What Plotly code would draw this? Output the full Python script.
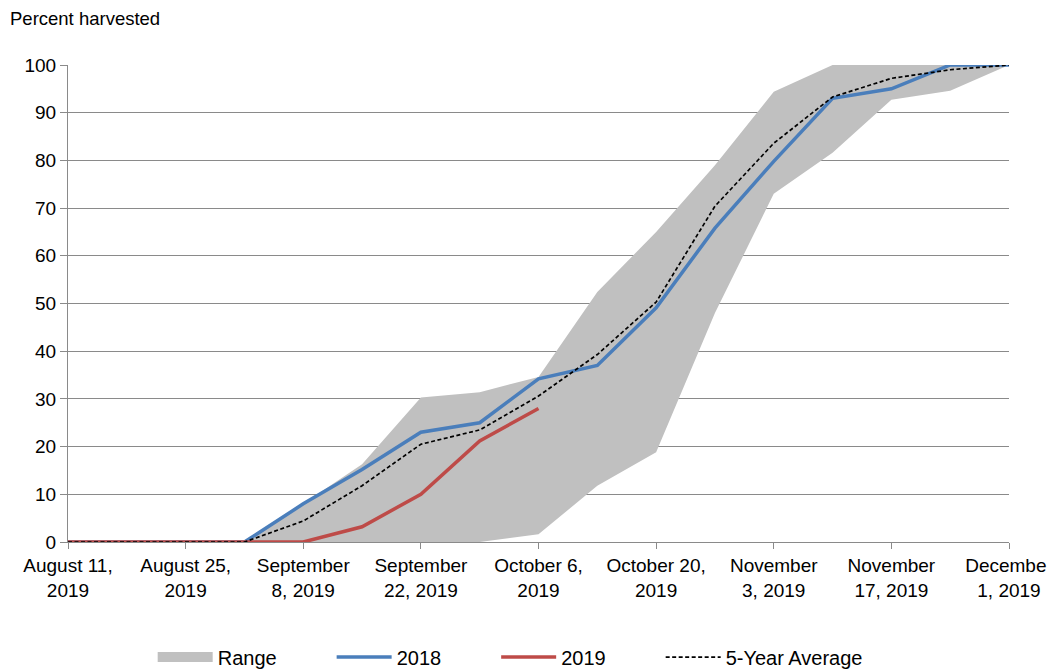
import plotly.graph_objects as go

weeks = ["2019-08-11", "2019-08-18", "2019-08-25", "2019-09-01", "2019-09-08",
         "2019-09-15", "2019-09-22", "2019-09-29", "2019-10-06", "2019-10-13",
         "2019-10-20", "2019-10-27", "2019-11-03", "2019-11-10", "2019-11-17",
         "2019-11-24", "2019-12-01"]

range_low = [0, 0, 0, 0, 0, 0, 0, 0, 1.6, 11.8, 18.8, 48, 73, 81.6, 92.7, 94.6, 100]
range_high = [0, 0, 0, 0, 8, 16.3, 30.3, 31.4, 34.6, 52.4, 65, 79, 94.4, 100, 100, 100, 100]
y2018 = [0, 0, 0, 0, 8, 15.2, 23, 25, 34.2, 37, 49.1, 65.8, 79.8, 93, 95, 100, 100]
y2019 = [0, 0, 0, 0, 0, 3.2, 10, 21.2, 28]
avg5 = [0, 0, 0, 0, 4.4, 11.8, 20.5, 23.5, 30.6, 39.3, 50.3, 70.4, 83.6, 93.3, 97.2, 99, 100]

tick_vals = ["2019-08-11", "2019-08-25", "2019-09-08", "2019-09-22", "2019-10-06",
             "2019-10-20", "2019-11-03", "2019-11-17", "2019-12-01"]
tick_text = ["August 11,<br>2019", "August 25,<br>2019", "September<br>8, 2019",
             "September<br>22, 2019", "October 6,<br>2019", "October 20,<br>2019",
             "November<br>3, 2019", "November<br>17, 2019", "December<br>1, 2019"]

FONT = "Liberation Sans, Arial, sans-serif"
GRID = "#8a8a8a"
RANGE_COLOR = "#c0c0c0"
PAD = "\u00a0" * 9

fig = go.Figure()
fig.add_trace(go.Scatter(x=weeks, y=range_low, mode="lines", line=dict(width=0),
                         showlegend=False, hoverinfo="skip"))
fig.add_trace(go.Scatter(x=weeks, y=range_high, mode="lines", line=dict(width=0),
                         fill="tonexty", fillcolor=RANGE_COLOR, name="Range",
                         showlegend=False))
# legend-only entry for the range swatch (no data drawn)
fig.add_trace(go.Scatter(x=[None], y=[None], mode="lines",
                         line=dict(color=RANGE_COLOR, width=15), name="Range" + PAD))
fig.add_trace(go.Scatter(x=weeks, y=y2018, mode="lines",
                         line=dict(color="#4a7ebb", width=3.5), name="2018" + PAD))
fig.add_trace(go.Scatter(x=weeks[:len(y2019)], y=y2019, mode="lines",
                         line=dict(color="#be4b48", width=3.5), name="2019" + PAD))
fig.add_trace(go.Scatter(x=weeks, y=avg5, mode="lines",
                         line=dict(color="black", width=1.7, dash="4px,2.5px"),
                         name="5-Year Average"))

# page body has an 8px margin, so the figure is sized/offset to compensate
fig.update_layout(
    width=1047, height=661,
    margin=dict(l=60, r=46, t=57, b=127, autoexpand=False),
    paper_bgcolor="white", plot_bgcolor="white",
    font=dict(family=FONT, size=19, color="black"),
    showlegend=True,
    legend=dict(orientation="h", x=0.09, xanchor="left",
                yref="container", y=0.018, yanchor="middle",
                font=dict(size=20), itemwidth=55, traceorder="normal"),
    annotations=[dict(text="Percent harvested", xref="paper", yref="paper",
                      x=-0.0635, y=1.0, yshift=59, xanchor="left", yanchor="top",
                      showarrow=False, font=dict(size=18.5))],
)
fig.update_xaxes(type="date", range=["2019-08-11", "2019-12-01"],
                 tickvals=tick_vals, ticktext=tick_text, showgrid=False,
                 showline=True, linecolor=GRID, linewidth=1,
                 ticks="outside", ticklen=6, tickcolor=GRID,
                 tickfont=dict(size=19), zeroline=False, automargin=False)
fig.update_yaxes(range=[0, 100], dtick=10, showgrid=True, gridcolor=GRID,
                 gridwidth=1, showline=True, linecolor=GRID, linewidth=1,
                 ticks="outside", ticklen=7, tickcolor=GRID,
                 tickfont=dict(size=19), zeroline=False, automargin=False)

fig.write_html("out.html")
